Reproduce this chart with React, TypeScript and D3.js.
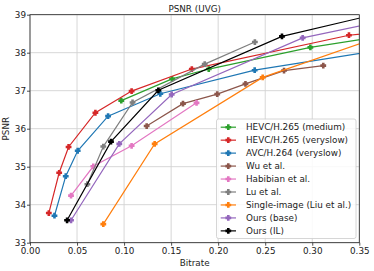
import React, { useRef, useEffect } from 'react';
import * as d3 from 'd3';

// legend order, colours (matplotlib tab10 + black)
const seriesNames = [
  'HEVC/H.265 (medium)',
  'HEVC/H.265 (veryslow)',
  'AVC/H.264 (veryslow)',
  'Wu et al.',
  'Habibian et al.',
  'Lu et al.',
  'Single-image (Liu et al.)',
  'Ours (base)',
  'Ours (IL)',
];
const seriesColors = ['#2ca02c', '#d62728', '#1f77b4', '#8c564b', '#e377c2', '#7f7f7f', '#ff7f0e', '#9467bd', '#000000'];

// bitrate / PSNR (last points of some curves lie past 0.35 and get clipped)
const hevcMediumX = [0.097, 0.151, 0.19, 0.298, 0.4];
const hevcMediumY = [36.74, 37.31, 37.57, 38.14, 38.53];
const hevcSlowX = [0.02, 0.031, 0.041, 0.0695, 0.108, 0.172, 0.339, 0.4];
const hevcSlowY = [33.78, 34.84, 35.52, 36.42, 36.99, 37.57, 38.46, 38.62];
const avcX = [0.026, 0.038, 0.0507, 0.083, 0.1385, 0.2388, 0.4];
const avcY = [33.71, 34.75, 35.42, 36.33, 36.92, 37.54, 38.18];
const wuX = [0.124, 0.1626, 0.199, 0.229, 0.27, 0.3117];
const wuY = [36.07, 36.66, 36.91, 37.18, 37.53, 37.66];
const habibianX = [0.0436, 0.0673, 0.108, 0.177];
const habibianY = [34.24, 35.01, 35.55, 36.68];
const luX = [0.061, 0.0779, 0.109, 0.1857, 0.239];
const luY = [34.54, 35.53, 36.69, 37.7, 38.28];
const liuX = [0.0779, 0.1325, 0.2473, 0.4];
const liuY = [33.49, 35.6, 37.35, 38.66];
const oursBaseX = [0.0436, 0.0949, 0.1506, 0.2898, 0.4];
const oursBaseY = [33.59, 35.6, 36.9, 38.39, 38.96];
const oursILX = [0.0394, 0.0861, 0.1364, 0.2678, 0.4];
const oursILY = [33.59, 35.66, 37.01, 38.43, 39.2];

const xTicks = [0, 0.05, 0.1, 0.15, 0.2, 0.25, 0.3, 0.35];
const yTicks = [33, 34, 35, 36, 37, 38, 39];

const allX = [hevcMediumX, hevcSlowX, avcX, wuX, habibianX, luX, liuX, oursBaseX, oursILX];
const allY = [hevcMediumY, hevcSlowY, avcY, wuY, habibianY, luY, liuY, oursBaseY, oursILY];

const W = 374;
const H = 271;
const FONT = 'DejaVu Sans, sans-serif';

// filled plus marker ("P")
function plus(cx: number, cy: number) {
  const a = 2.9, b = 1.3;
  return `M${cx - b},${cy - a}H${cx + b}V${cy - b}H${cx + a}V${cy + b}H${cx + b}V${cy + a}H${cx - b}V${cy + b}H${cx - a}V${cy - b}H${cx - b}Z`;
}

function PsnrChart() {
  const ref = useRef<SVGSVGElement>(null);

  useEffect(() => {
    document.body.style.margin = '0';
    const svg = d3.select(ref.current);
    svg.selectAll('*').remove();

    const left = 30, right = 359.3, top = 14.7, bottom = 242.7;

    const x = d3.scaleLinear().domain([0, 0.35]).range([left, right]);
    const y = d3.scaleLinear().domain([33, 39]).range([bottom, top]);

    svg.append('defs').append('clipPath').attr('id', 'plotclip')
      .append('rect').attr('x', left).attr('y', top).attr('width', right - left).attr('height', bottom - top);

    // grid
    const grid = svg.append('g');
    grid.selectAll('line.gx').data(xTicks).join('line')
      .attr('class', 'gx')
      .attr('x1', d => x(d)).attr('x2', d => x(d)).attr('y1', top).attr('y2', bottom)
      .attr('stroke', '#d3d3d3').attr('stroke-width', 0.9);
    grid.selectAll('line.gy').data(yTicks).join('line')
      .attr('class', 'gy')
      .attr('y1', d => y(d)).attr('y2', d => y(d)).attr('x1', left).attr('x2', right)
      .attr('stroke', '#d3d3d3').attr('stroke-width', 0.9);

    // series
    const line = d3.line<[number, number]>().x(d => x(d[0])).y(d => y(d[1]));
    const plot = svg.append('g').attr('clip-path', 'url(#plotclip)');
    allX.forEach((xs, i) => {
      const pts: [number, number][] = xs.map((v, j) => [v, allY[i][j]]);
      const g = plot.append('g');
      g.append('path').attr('d', line(pts)).attr('fill', 'none')
        .attr('stroke', seriesColors[i]).attr('stroke-width', 1.2);
      g.selectAll('path.m').data(pts).join('path')
        .attr('class', 'm')
        .attr('d', d => plus(x(d[0]), y(d[1])))
        .attr('fill', seriesColors[i]);
    });

    // axes
    const xAxis = d3.axisBottom(x).tickValues(xTicks).tickFormat(d3.format('.2f')).tickSize(3).tickPadding(2);
    const gx = svg.append('g').attr('transform', `translate(0,${bottom})`).call(xAxis);
    const yAxis = d3.axisLeft(y).tickValues(yTicks).tickFormat(d3.format('d')).tickSize(3).tickPadding(1);
    const gy = svg.append('g').attr('transform', `translate(${left},0)`).call(yAxis);
    [gx, gy].forEach(g => {
      g.select('.domain').remove();
      g.selectAll('line').attr('stroke', '#222').attr('stroke-width', 0.8);
      g.selectAll('text').attr('font-family', FONT).attr('font-size', 8.8).attr('fill', '#222');
    });

    // frame
    svg.append('rect').attr('x', left).attr('y', top).attr('width', right - left).attr('height', bottom - top)
      .attr('fill', 'none').attr('stroke', '#222').attr('stroke-width', 0.8);

    // titles
    svg.append('text').attr('x', (left + right) / 2).attr('y', 11.5).attr('text-anchor', 'middle')
      .attr('font-family', FONT).attr('font-size', 8.8).attr('fill', '#222').text('PSNR (UVG)');
    svg.append('text').attr('x', (left + right) / 2).attr('y', 266).attr('text-anchor', 'middle')
      .attr('font-family', FONT).attr('font-size', 8.8).attr('fill', '#222').text('Bitrate');
    svg.append('text').attr('transform', `translate(9,${(top + bottom) / 2}) rotate(-90)`).attr('text-anchor', 'middle')
      .attr('font-family', FONT).attr('font-size', 8.8).attr('fill', '#222').text('PSNR');

    // legend
    const lx = 216.5, ly = 119, lw = 139.5, lh = 119.5, rowH = 12.96, firstRow = 127.2;
    const lg = svg.append('g');
    lg.append('rect').attr('x', lx).attr('y', ly).attr('width', lw).attr('height', lh).attr('rx', 2)
      .attr('fill', 'white').attr('fill-opacity', 0.85).attr('stroke', '#cccccc').attr('stroke-width', 0.8);
    seriesNames.forEach((name, i) => {
      const cy = firstRow + i * rowH;
      lg.append('line').attr('x1', 220.7).attr('x2', 236).attr('y1', cy).attr('y2', cy)
        .attr('stroke', seriesColors[i]).attr('stroke-width', 1.2);
      lg.append('path').attr('d', plus(228.3, cy)).attr('fill', seriesColors[i]);
      lg.append('text').attr('x', 246).attr('y', cy + 3.2).attr('font-family', FONT).attr('font-size', 8.8)
        .attr('fill', '#222').text(name);
    });
  }, []);

  return <svg ref={ref} width={W} height={H} style={{ display: 'block' }} />;
}

export default function App() {
  return <PsnrChart />;
}
